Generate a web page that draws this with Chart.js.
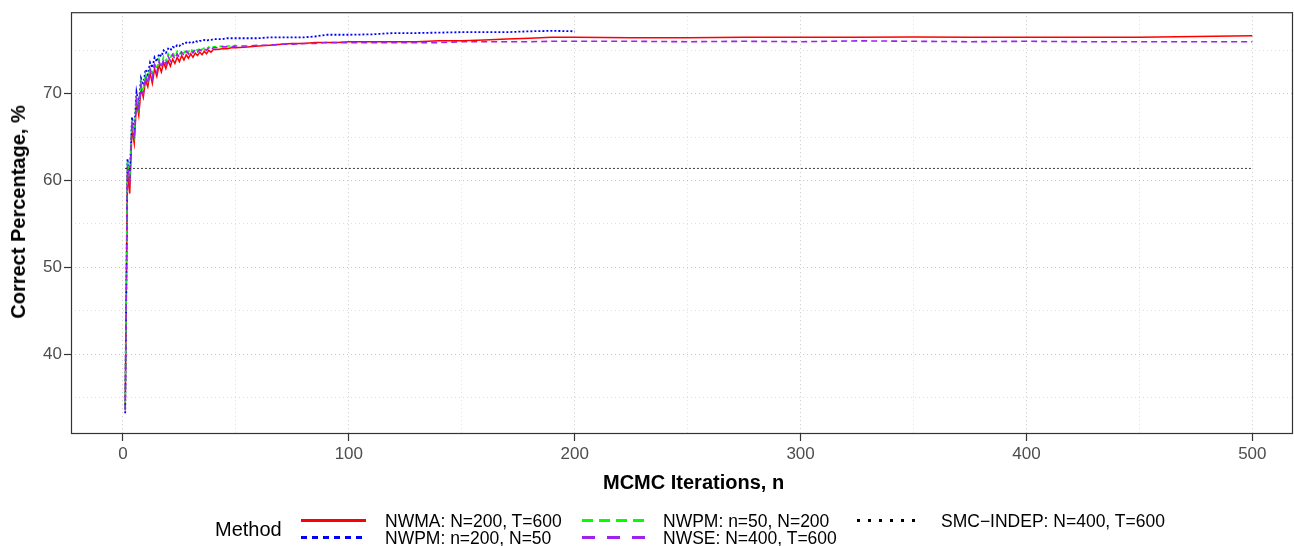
<!DOCTYPE html>
<html>
<head>
<meta charset="utf-8">
<script src="https://cdn.jsdelivr.net/npm/chart.js@4.4.1/dist/chart.umd.min.js"></script>
<style>
  body { margin: 0; background: #fff; font-family: "Liberation Sans", Arial, sans-serif; }
  #wrap { position: relative; width: 1294px; height: 546px; }
  #chart { position: absolute; left: 0; top: 0; }
  .lab { position: absolute; white-space: nowrap; color: #000; }
  .key { position: absolute; height: 3px; width: 65px; }
  .item { font-size: 17.5px; line-height: 20px; }
</style>
</head>
<body>
<div id="wrap">
  <canvas id="chart" width="1294" height="546"></canvas>
  <div class="lab" id="xTitle" style="left:603px; top:470px; font-size:20px; font-weight:bold; line-height:24px;">MCMC Iterations, n</div>
  <div class="lab" id="yTitle" style="left:18px; top:212px; font-size:20px; font-weight:bold; line-height:24px; transform: translate(-50%,-50%) rotate(-90deg);">Correct Percentage, %</div>

  <div class="lab" style="left:215px; top:517px; font-size:20px; line-height:24px;">Method</div>
  <div class="key" style="left:301px; top:519px; background:#ff0000;"></div>
  <div class="lab item" style="left:385px; top:511px;">NWMA: N=200, T=600</div>
  <div class="key" style="left:301px; top:536px; background:repeating-linear-gradient(90deg,#0000ff 0 6px,transparent 6px 11px);"></div>
  <div class="lab item" style="left:385px; top:528px;">NWPM: n=200, N=50</div>
  <div class="key" style="left:582px; top:519px; width:63px; background:repeating-linear-gradient(90deg,#00ff00 0 11px,transparent 11px 17px);"></div>
  <div class="lab item" style="left:663px; top:511px;">NWPM: n=50, N=200</div>
  <div class="key" style="left:582px; top:536px; width:63px; background:repeating-linear-gradient(90deg,#a020f0 0 13px,transparent 13px 25px);"></div>
  <div class="lab item" style="left:663px; top:528px;">NWSE: N=400, T=600</div>
  <div class="key" style="left:857px; top:519px; width:60px; background:repeating-linear-gradient(90deg,#000 0 3px,transparent 3px 11px);"></div>
  <div class="lab item" style="left:941px; top:511px;">SMC−INDEP: N=400, T=600</div>
</div>
<script>
// iteration grid (every step early on, sparser where the curves are flat)
const iters = [1,2,3,4,5,6,7,8,9,10,11,12,13,14,15,16,17,18,19,20,
  21,22,23,24,25,26,27,28,29,30,31,32,33,34,35,36,37,38,39,40,
  42,44,46,48,50,55,60,65,70,75,80,85,90,95,100,
  110,120,130,140,150,160,170,180,190,200,
  225,250,275,300,325,350,375,400,425,450,475,500];

// NWMA: N=200, T=600
const nwma = [33.8,61.0,58.5,66.0,64.3,69.0,67.5,70.6,69.6,71.6,70.8,72.4,71.2,72.9,72.0,73.3,72.5,73.6,72.9,73.8,
  73.2,74.0,73.5,74.2,73.7,74.4,73.9,74.5,74.1,74.6,74.2,74.7,74.4,74.8,74.5,74.9,74.6,75.0,74.8,75.1,
  75.1,75.2,75.2,75.3,75.3,75.4,75.5,75.6,75.7,75.8,75.8,75.9,75.9,75.9,76.0,
  76.0,76.0,76.0,76.1,76.1,76.2,76.3,76.4,76.5,76.5,
  76.45,76.45,76.5,76.5,76.5,76.55,76.5,76.5,76.5,76.5,76.6,76.7];

// NWPM: n=200, N=50 (runs to 200)
const nwpm200 = [33.2,62.5,60.3,67.3,65.8,70.2,68.8,71.8,71.0,72.8,72.2,73.6,73.0,74.2,73.7,74.6,74.3,75.0,74.7,75.2,
  75.0,75.4,75.3,75.6,75.5,75.8,75.7,75.9,75.8,76.0,75.9,76.1,76.0,76.1,76.1,76.2,76.1,76.2,76.2,76.3,
  76.3,76.3,76.4,76.4,76.4,76.4,76.4,76.5,76.5,76.5,76.5,76.6,76.8,76.8,76.8,
  76.85,77.0,77.0,77.05,77.1,77.1,77.1,77.2,77.25,77.2];

// NWPM: n=50, N=200 (runs to 50)
const nwpm50 = [33.6,62.2,60.0,67.0,65.3,69.8,68.3,71.3,70.3,72.3,71.5,73.0,72.2,73.6,72.8,74.0,73.3,74.3,73.8,74.6,
  74.1,74.8,74.3,74.9,74.5,75.0,74.7,75.1,74.8,75.2,74.9,75.2,75.0,75.3,75.1,75.3,75.2,75.4,75.2,75.4,
  75.4,75.5,75.5,75.5,75.6];

// NWSE: N=400, T=600
const nwse = [33.5,61.8,59.5,66.8,64.8,69.3,68.0,71.0,70.0,72.0,71.2,72.8,71.8,73.3,72.5,73.7,73.0,74.0,73.4,74.3,
  73.8,74.5,74.0,74.6,74.2,74.8,74.4,74.9,74.6,75.0,74.7,75.1,74.8,75.1,74.9,75.2,75.0,75.3,75.1,75.3,
  75.3,75.4,75.4,75.4,75.5,75.5,75.6,75.6,75.7,75.7,75.8,75.8,75.9,75.9,75.9,
  75.9,75.9,75.9,75.9,76.0,76.0,76.0,76.0,76.05,76.05,
  76.05,76.0,76.05,76.0,76.1,76.05,76.0,76.05,76.0,76.0,76.0,76.0];

// SMC-INDEP: N=400, T=600 (constant level)
const smcIters = [1, 500];
const smc = [61.4, 61.4];

const xMajor = [0, 100, 200, 300, 400, 500];
const xMinor = [50, 150, 250, 350, 450];
const yMajor = [40, 50, 60, 70];
const yMinor = [35, 45, 55, 65, 75];

function pts(xs, ys) {
    return ys.map(function(v, i) { return { x: xs[i], y: v }; });
}

function tickList(major, minor) {
    return major.concat(minor).sort(function(a, b) { return a - b; })
        .map(function(v) { return { value: v }; });
}

const panelBorder = {
    id: 'panelBorder',
    afterDraw: function(chart) {
        const a = chart.chartArea;
        const ctx = chart.ctx;
        ctx.save();
        ctx.strokeStyle = '#333333';
        ctx.lineWidth = 1.2;
        ctx.strokeRect(a.left + 0.5, a.top + 0.5, a.right - a.left - 1, a.bottom - a.top - 1);
        ctx.restore();
    }
};

function axis(major, minor, min, max) {
    return {
        type: 'linear',
        min: min,
        max: max,
        afterBuildTicks: function(s) { s.ticks = tickList(major, minor); },
        grid: {
            color: function(c) { return major.indexOf(c.tick.value) >= 0 ? 'rgba(0,0,0,0.22)' : 'rgba(0,0,0,0.13)'; },
            tickColor: function(c) { return major.indexOf(c.tick.value) >= 0 ? '#333333' : 'rgba(0,0,0,0)'; },
            lineWidth: 1,
            tickLength: 7,
            tickWidth: 1.2,
            tickBorderDash: []
        },
        border: { display: false, dash: [1, 3] },
        ticks: {
            autoSkip: false,
            maxRotation: 0,
            color: '#4d4d4d',
            font: { family: '"Liberation Sans", Arial, sans-serif', size: 17 },
            callback: function(v) { return major.indexOf(v) >= 0 ? String(v) : ''; }
        }
    };
}

const xScale = axis(xMajor, xMinor, -23, 518);
xScale.ticks.padding = 3;
xScale.afterFit = function(s) { s.height = 112; };
const yScale = axis(yMajor, yMinor, 30.8, 79.4);
yScale.ticks.padding = 2;
yScale.afterFit = function(s) { s.width = 71; };

new Chart(document.getElementById('chart').getContext('2d'), {
    type: 'line',
    data: {
        datasets: [
            { label: 'SMC-INDEP: N=400, T=600', data: pts(smcIters, smc), borderColor: '#000000', borderWidth: 1, borderDash: [1.5, 2.5] },
            { label: 'NWSE: N=400, T=600', data: pts(iters, nwse), borderColor: '#a020f0', borderWidth: 1.6, borderDash: [6, 4] },
            { label: 'NWPM: n=50, N=200', data: pts(iters, nwpm50), borderColor: '#00ff00', borderWidth: 1.6, borderDash: [4, 3] },
            { label: 'NWPM: n=200, N=50', data: pts(iters, nwpm200), borderColor: '#0000ff', borderWidth: 1.8, borderDash: [2, 2] },
            { label: 'NWMA: N=200, T=600', data: pts(iters, nwma), borderColor: '#ff0000', borderWidth: 1.5 }
        ]
    },
    options: {
        responsive: false,
        animation: false,
        devicePixelRatio: 1,
        layout: { padding: { top: 10, right: 1, left: 0, bottom: 0 } },
        elements: { point: { radius: 0 }, line: { tension: 0, fill: false } },
        plugins: { legend: { display: false }, tooltip: { enabled: false } },
        scales: { x: xScale, y: yScale }
    },
    plugins: [panelBorder]
});
</script>
</body>
</html>
